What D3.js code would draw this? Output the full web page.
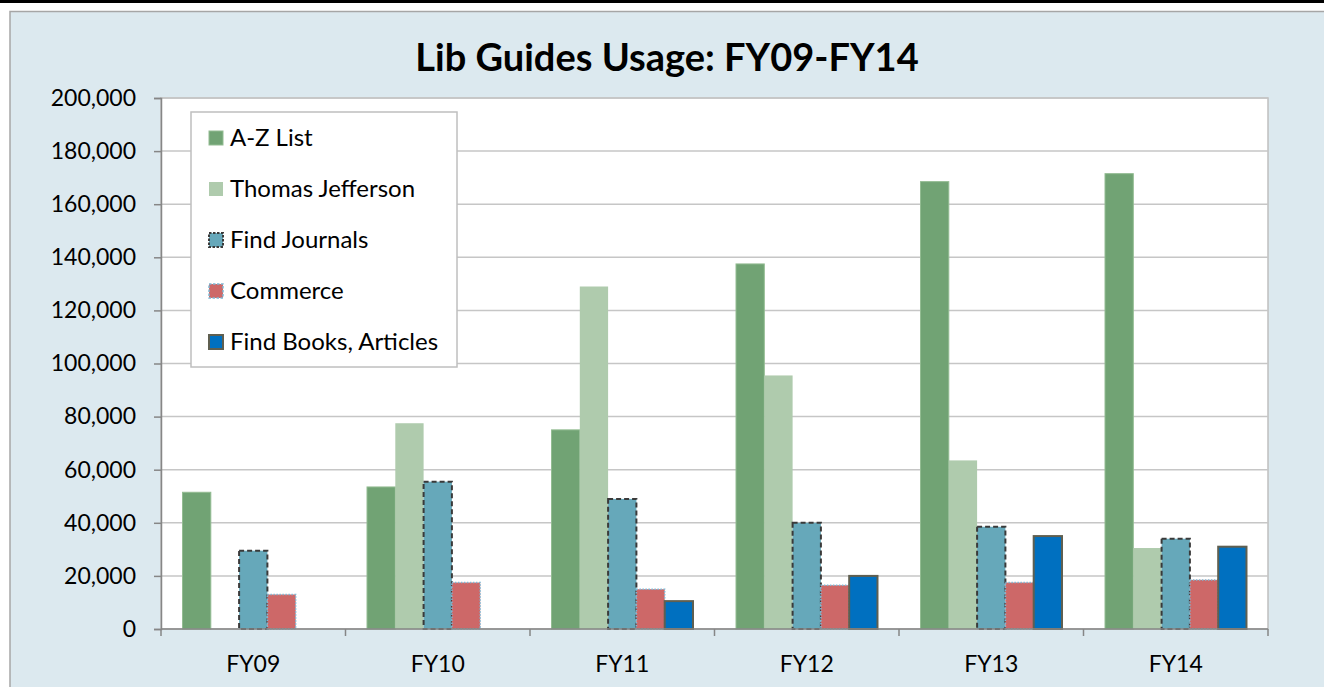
<!DOCTYPE html>
<html>
<head>
<meta charset="utf-8">
<script src="https://cdn.jsdelivr.net/npm/d3@7"></script>
<style>
  body { margin: 0; background: #fff; }
  text { font-family: Lato, "Open Sans", sans-serif; }
</style>
</head>
<body>
<svg></svg>
<script>
var years = ["FY09", "FY10", "FY11", "FY12", "FY13", "FY14"];
var seriesNames = ["A-Z List", "Thomas Jefferson", "Find Journals", "Commerce", "Find Books, Articles"];
var azList = [51500, 53500, 75000, 137500, 168500, 171500];
var thomasJefferson = [0, 77500, 129000, 95500, 63500, 30500];
var findJournals = [29500, 55500, 49000, 40000, 38500, 34000];
var commerce = [13000, 17500, 15000, 16500, 17500, 18500];
var findBooks = [0, 0, 10500, 20000, 35000, 31000];
var yTicks = [0, 20000, 40000, 60000, 80000, 100000, 120000, 140000, 160000, 180000, 200000];

var seriesValues = [azList, thomasJefferson, findJournals, commerce, findBooks];

var styles = [
  { fill: "#71a374", stroke: "#93bc92", dash: null, sw: 1 },
  { fill: "#afcbad", stroke: "none", dash: null, sw: 0 },
  { fill: "#66a8ba", stroke: "#3a3a3a", dash: "5,3", sw: 2 },
  { fill: "#cd6868", stroke: "#7fb8d4", dash: "1.5,1.5", sw: 1.5 },
  { fill: "#0070c0", stroke: "#5f5f50", dash: null, sw: 2 }
];

var width = 1324,
  height = 687;

var svg = d3.select("svg").attr("width", width).attr("height", height);

// outer chart area
svg.append("rect")
  .attr("x", 0).attr("y", 0)
  .attr("width", width).attr("height", 3)
  .attr("fill", "#000");

svg.append("rect")
  .attr("x", 10).attr("y", 11.5)
  .attr("width", width).attr("height", height)
  .attr("fill", "#dce9ef")
  .attr("stroke", "#a6a6a6")
  .attr("stroke-width", 1.5);

var margin = { left: 161, top: 98, right: 1268, bottom: 629 };

var x0 = d3.scaleBand().domain(years).range([margin.left, margin.right]).paddingInner(0).paddingOuter(0);
var x1 = d3.scaleBand().domain(seriesNames).range([0, x0.bandwidth()]).paddingInner(0).paddingOuter(0.76);
var y = d3.scaleLinear().domain([0, 200000]).range([margin.bottom, margin.top]);

// plot area
svg.append("rect")
  .attr("x", margin.left).attr("y", margin.top)
  .attr("width", margin.right - margin.left).attr("height", margin.bottom - margin.top)
  .attr("fill", "#fff")
  .attr("stroke", "#bfbfbf")
  .attr("stroke-width", 1.5);

svg.append("g")
  .selectAll("line")
  .data(yTicks.slice(1))
  .join("line")
  .attr("x1", margin.left).attr("x2", margin.right)
  .attr("y1", function (d) { return y(d); })
  .attr("y2", function (d) { return y(d); })
  .attr("stroke", "#c6c6c6")
  .attr("stroke-width", 1.5);

// bars
var groups = svg.append("g")
  .selectAll("g")
  .data(seriesNames)
  .join("g");

groups.each(function (name, si) {
  var st = styles[si];
  d3.select(this)
    .selectAll("rect")
    .data(seriesValues[si].map(function (v, i) { return { year: years[i], value: v }; })
      .filter(function (d) { return d.value > 0; }))
    .join("rect")
    .attr("x", function (d) { return x0(d.year) + x1(name); })
    .attr("width", x1.bandwidth())
    .attr("y", function (d) { return y(d.value); })
    .attr("height", function (d) { return y(0) - y(d.value); })
    .attr("fill", st.fill)
    .attr("stroke", st.stroke)
    .attr("stroke-width", st.sw)
    .attr("stroke-dasharray", st.dash);
});

// axes
var yAxis = svg.append("g")
  .attr("transform", "translate(" + margin.left + ",0)")
  .call(d3.axisLeft(y).tickValues(yTicks).tickSize(7).tickPadding(18).tickFormat(d3.format(",")));
yAxis.select(".domain").attr("stroke", "#868686").attr("stroke-width", 1.5);
yAxis.selectAll(".tick line").attr("stroke", "#868686").attr("stroke-width", 1.5);
yAxis.selectAll("text").attr("font-size", "23px").attr("fill", "#000");

var xAxis = svg.append("g")
  .attr("transform", "translate(0," + margin.bottom + ")");
xAxis.append("line")
  .attr("x1", margin.left).attr("x2", margin.right)
  .attr("stroke", "#868686").attr("stroke-width", 1.5);
xAxis.selectAll(".xtick")
  .data(years.concat(["end"]))
  .join("line")
  .attr("x1", function (d, i) { return margin.left + i * x0.bandwidth(); })
  .attr("x2", function (d, i) { return margin.left + i * x0.bandwidth(); })
  .attr("y1", 0).attr("y2", 7)
  .attr("stroke", "#868686").attr("stroke-width", 1.5);
xAxis.selectAll("text")
  .data(years)
  .join("text")
  .attr("x", function (d) { return x0(d) + x0.bandwidth() / 2; })
  .attr("y", 43)
  .attr("text-anchor", "middle")
  .attr("font-size", "23px")
  .attr("fill", "#000")
  .text(function (d) { return d; });

// title
svg.append("text")
  .attr("x", 667).attr("y", 71)
  .attr("text-anchor", "middle")
  .attr("font-size", "38px")
  .attr("font-weight", "bold")
  .attr("fill", "#000")
  .text("Lib Guides Usage: FY09-FY14");

// legend
var legend = svg.append("g");
legend.append("rect")
  .attr("x", 191).attr("y", 112)
  .attr("width", 266).attr("height", 255)
  .attr("fill", "#fff")
  .attr("stroke", "#bfbfbf")
  .attr("stroke-width", 1.5);

var items = legend.selectAll(".item")
  .data(seriesNames)
  .join("g")
  .attr("class", "item")
  .attr("transform", function (d, i) { return "translate(209," + (138 + i * 51) + ")"; });

items.append("rect")
  .attr("x", 0).attr("y", -7)
  .attr("width", 14).attr("height", 14)
  .attr("fill", function (d, i) { return styles[i].fill; })
  .attr("stroke", function (d, i) { return styles[i].stroke; })
  .attr("stroke-width", function (d, i) { return styles[i].sw; })
  .attr("stroke-dasharray", function (d, i) { return styles[i].dash ? "2.5,1.5" : null; });

items.append("text")
  .attr("x", 21)
  .attr("dy", "0.35em")
  .attr("font-size", "24px")
  .attr("fill", "#000")
  .text(function (d) { return d; });
</script>
</body>
</html>
